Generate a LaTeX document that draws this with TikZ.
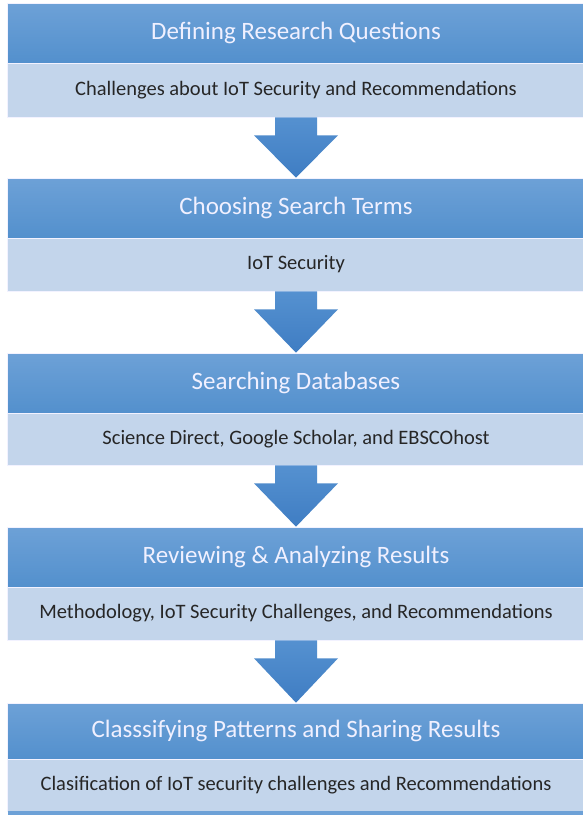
\documentclass[tikz,border=0pt]{standalone}
\usepackage{fontspec}
\setmainfont{Carlito}
\begin{document}
\begin{tikzpicture}[x=1pt,y=-1pt,
  band/.style={rectangle,inner sep=0pt,minimum width=577pt,draw=white!75!blue!20,line width=0.6pt},
  titleband/.style={band,top color=hdtop,bottom color=hdbot,text=white!94!blue,
    font=\fontsize{25}{30}\selectfont},
  subband/.style={band,fill=subfill,text=black!85,
    font=\fontsize{20.5}{24}\selectfont},
  flowarrow/.style={top color=arrtop,bottom color=arrbot,draw=none}]
\definecolor{hdtop}{HTML}{6DA1D7}
\definecolor{hdbot}{HTML}{5390CD}
\definecolor{subfill}{HTML}{C3D5EB}
\definecolor{arrtop}{HTML}{5591D0}
\definecolor{arrbot}{HTML}{3F7DC3}
\useasboundingbox (0,0) rectangle (582,815);
\fill[white] (0,0) rectangle (582,815);

% step headings and their descriptions
\node[titleband,minimum height=59.5pt] (t1) at (296,33.25) {Defining Research Questions};
\node[subband,minimum height=54pt]   (s1) at (296,90)    {Challenges about IoT Security and Recommendations};
\node[titleband,minimum height=60pt] (t2) at (296,208)   {Choosing Search Terms};
\node[subband,minimum height=53pt]   (s2) at (296,264.5) {IoT Security};
\node[titleband,minimum height=60pt] (t3) at (296,383)   {Searching Databases};
\node[subband,minimum height=52pt]   (s3) at (296,439)   {Science Direct, Google Scholar, and EBSCOhost};
\node[titleband,minimum height=60pt] (t4) at (296,557)   {Reviewing \& Analyzing Results};
\node[subband,minimum height=53pt]   (s4) at (296,613.5) {Methodology, IoT Security Challenges, and Recommendations};
\node[titleband,minimum height=56pt] (t5) at (296,731)   {Classsifying Patterns and Sharing Results};
\node[subband,minimum height=52pt]   (s5) at (296,785)   {Clasification of IoT security challenges and Recommendations};
\fill[hdtop] (7.5,811) rectangle (584.5,816);

% block arrows between steps
\foreach \a/\b in {s1/t2,s2/t3,s3/t4,s4/t5}{
  \path[flowarrow]
    ([xshift=-21pt]\a.south) -- ([xshift=21pt]\a.south)
    -- ([xshift=21pt,yshift=-18pt]\a.south) -- ([xshift=42pt,yshift=-18pt]\a.south)
    -- (\b.north)
    -- ([xshift=-42pt,yshift=-18pt]\a.south) -- ([xshift=-21pt,yshift=-18pt]\a.south)
    -- cycle;
}
\end{tikzpicture}
\end{document}
